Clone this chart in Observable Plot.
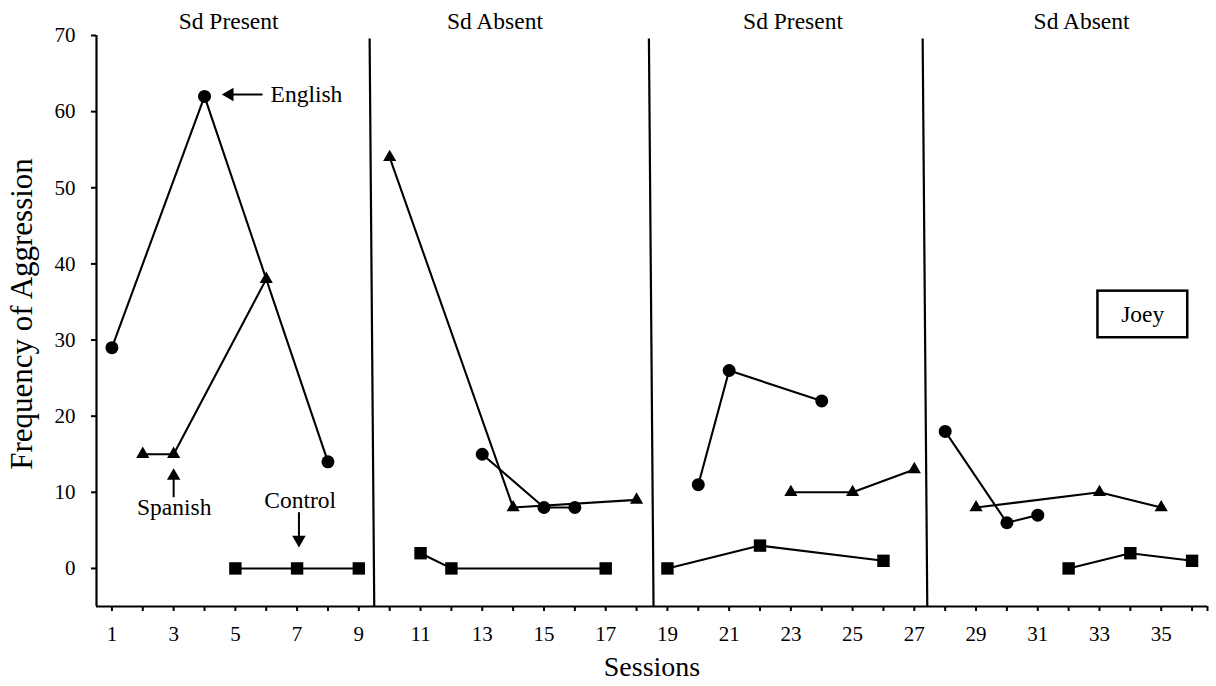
<!DOCTYPE html>
<html><head><meta charset="utf-8">
<script src="https://cdn.jsdelivr.net/npm/d3@7"></script>
<script src="https://cdn.jsdelivr.net/npm/@observablehq/plot@0.6"></script>
<style>
body{margin:0;background:#fff;}
#chart{width:1216px;height:686px;}
#chart svg, #chart svg text{font-family:"Liberation Serif","Times New Roman",serif !important;}
</style></head><body><div id="chart"></div>
<script>
// ---- data ----
const phaseLabels = ["Sd Present", "Sd Absent", "Sd Present", "Sd Absent"];
const phaseLabelSession = [4.78, 13.41, 23.07, 32.42];
const phaseChangeSession = [9.5, 18.55, 27.42];

const englishSession = [1, 4, 8, 13, 15, 16, 20, 21, 24, 28, 30, 31];
const englishFreq    = [29, 62, 14, 15, 8, 8, 11, 26, 22, 18, 6, 7];

const spanishSession = [2, 3, 6, 10, 14, 18, 23, 25, 27, 29, 33, 35];
const spanishFreq    = [15, 15, 38, 54, 8, 9, 10, 10, 13, 8, 10, 8];

const controlSession = [5, 7, 9, 11, 12, 17, 19, 22, 26, 32, 34, 36];
const controlFreq    = [0, 0, 0, 2, 0, 0, 0, 3, 1, 0, 2, 1];

const xTickValues = [1,2,3,4,5,6,7,8,9,10,11,12,13,14,15,16,17,18,19,20,21,22,23,24,25,26,27,28,29,30,31,32,33,34,35,36,36.5];
const yTickValues = [0, 10, 20, 30, 40, 50, 60, 70];

const participant = "Joey";

// ---- build table ----
const phaseOf = s => phaseChangeSession.filter(c => s > c).length;
const series = [
  {name: "English", symbol: "circle", sessions: englishSession, values: englishFreq},
  {name: "Spanish", symbol: "triangle", sessions: spanishSession, values: spanishFreq},
  {name: "Control", symbol: "square", sessions: controlSession, values: controlFreq}
];
const rows = series.flatMap(s => s.sessions.map((x, i) => ({
  series: s.name, symbol: s.symbol, session: x, freq: s.values[i], phase: phaseOf(x)
})));
const symR = {circle: 6.5, triangle: 4.9, square: 7};

const serif = "Liberation Serif";
const annSize = 23.5;

const chart = Plot.plot({
  width: 1216,
  height: 686,
  marginTop: 35,
  marginRight: 9,
  marginBottom: 80,
  marginLeft: 96,
  style: {fontFamily: serif, fontSize: "21px", background: "#fff", color: "#000"},
  x: {domain: [0.5, 36.5]},
  y: {domain: [-5, 70]},
  marks: [
    // axis lines
    Plot.ruleX([0.5], {y1: -5, y2: 70, stroke: "#000", strokeWidth: 2.2}),
    Plot.ruleY([-5], {x1: 0.5, x2: 36.5, stroke: "#000", strokeWidth: 2.2}),
    Plot.axisX({ticks: xTickValues, tickFormat: d => (d % 2 === 1 ? String(d) : ""), tickSize: 5, tickPadding: 15, fontSize: 21, fontFamily: serif, label: null, strokeWidth: 2}),
    Plot.axisY({ticks: yTickValues, tickSize: 5, tickPadding: 16, fontSize: 21, fontFamily: serif, label: null, strokeWidth: 2}),
    // phase change lines
    Plot.link(phaseChangeSession, {x1: d => d - 0.15, x2: d => d, y1: 69.6, y2: -5, stroke: "#000", strokeWidth: 2.2}),
    Plot.text(phaseLabels, {x: (d, i) => phaseLabelSession[i], y: 71.9, text: d => d, fontSize: annSize, fontFamily: serif, fill: "#000"}),
    // data lines
    Plot.line(rows, {x: "session", y: "freq", z: d => d.series + d.phase, stroke: "#000", strokeWidth: 2.1}),
    // markers
    ...["circle", "triangle", "square"].map(sym =>
      Plot.dot(rows.filter(d => d.symbol === sym), {x: "session", y: "freq", symbol: sym, r: symR[sym], fill: "#000", stroke: "none"})
    ),
    // English annotation
    Plot.link([0], {x1: 4.8, x2: 5.88, y1: 62.25, y2: 62.25, stroke: "#000", strokeWidth: 2}),
    Plot.dot([0], {x: 4.57, y: 62.25, dx: 7.5, symbol: "triangle", rotate: -90, r: 5, fill: "#000", stroke: "none"}),
    Plot.text(["English"], {x: 6.14, y: 62.25, text: d => d, textAnchor: "start", fontSize: annSize, fontFamily: serif, fill: "#000"}),
    // Spanish annotation
    Plot.link([0], {x1: 3, x2: 3, y1: 12.4, y2: 9.36, stroke: "#000", strokeWidth: 2}),
    Plot.dot([0], {x: 3, y: 13.13, dy: 7.5, symbol: "triangle", rotate: 0, r: 5, fill: "#000", stroke: "none"}),
    Plot.text(["Spanish"], {x: 3.02, y: 8.0, text: d => d, fontSize: annSize, fontFamily: serif, fill: "#000"}),
    // Control annotation
    Plot.link([0], {x1: 7.06, x2: 7.06, y1: 7.39, y2: 3.6, stroke: "#000", strokeWidth: 2}),
    Plot.dot([0], {x: 7.06, y: 2.79, dy: -7.5, symbol: "triangle", rotate: 180, r: 5, fill: "#000", stroke: "none"}),
    Plot.text(["Control"], {x: 7.1, y: 8.9, text: d => d, fontSize: annSize, fontFamily: serif, fill: "#000"}),
    // participant box
    Plot.rect([0], {x1: 32.95, x2: 35.86, y1: 30.3, y2: 36.42, fill: "#fff", stroke: "#000", strokeWidth: 2.5}),
    Plot.text([participant], {x: 34.4, y: 33.3, text: d => d, fontSize: annSize, fontFamily: serif, fill: "#000"}),
    // axis titles
    Plot.text(["Sessions"], {frameAnchor: "bottom", dy: 61, textAnchor: "middle", lineAnchor: "middle", text: d => d, fontSize: 28, fontFamily: serif, fill: "#000"}),
    Plot.text(["Frequency of Aggression"], {frameAnchor: "left", dx: -74, dy: -7, rotate: -90, textAnchor: "middle", lineAnchor: "middle", text: d => d, fontSize: 31, fontFamily: serif, fill: "#000"})
  ]
});
document.getElementById("chart").appendChild(chart);
</script>
</body></html>
